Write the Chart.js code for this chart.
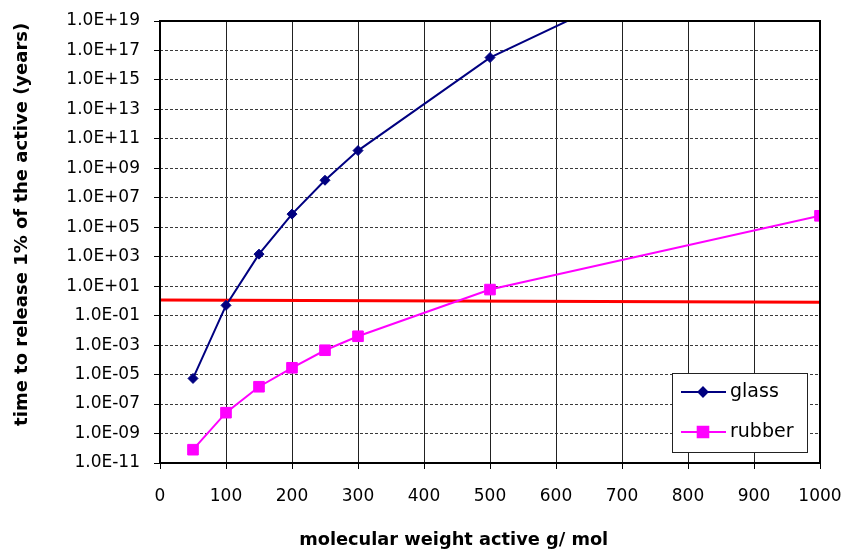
<!DOCTYPE html>
<html>
<head>
<meta charset="utf-8">
<script src="https://cdn.jsdelivr.net/npm/chart.js@4.4.1/dist/chart.umd.min.js"></script>
<style>
html,body{margin:0;padding:0;background:#ffffff;}
#wrap{width:844px;height:550px;position:relative;}
</style>
</head>
<body>
<div id="wrap"><canvas id="c" width="844" height="550"></canvas></div>
<script>
// ---- data ----
const molWeights   = [50, 100, 150, 200, 250, 300, 500, 1000];
const glassYears   = [5.5e-6, 0.5, 1.5e3, 7.8e5, 1.55e8, 1.6e10, 3.3e16, 1.3e27];
const rubberYears  = [8e-11, 2.6e-8, 1.5e-6, 2.9e-5, 4.5e-4, 4e-3, 5.9, 6e5];
const limitWeights = [0, 1000];
const limitYears   = [1.17, 0.81];
const seriesNames  = ['glass', 'rubber'];
const xTickValues  = [0, 100, 200, 300, 400, 500, 600, 700, 800, 900, 1000];
const xTickLabels  = ['0', '100', '200', '300', '400', '500', '600', '700', '800', '900', '1000'];
const yTickExponents = [-11, -9, -7, -5, -3, -1, 1, 3, 5, 7, 9, 11, 13, 15, 17, 19];
const yTickLabels  = ['1.0E-11','1.0E-09','1.0E-07','1.0E-05','1.0E-03','1.0E-01','1.0E+01','1.0E+03',
                      '1.0E+05','1.0E+07','1.0E+09','1.0E+11','1.0E+13','1.0E+15','1.0E+17','1.0E+19'];
const xTitle = 'molecular weight active g/ mol';
const yTitle = 'time to release 1% of the active (years)';

const toPoints = (xs, ys) => xs.map((x, i) => ({x: x, y: ys[i]}));

const edgeAware = (color, n) => (ctx) => (ctx.index === 0 || ctx.index === n - 1) ? 'rgba(0,0,0,0)' : color;

const framePlugin = {
  id: 'frame',
  afterDatasetsDraw(chart) {
    const {ctx, chartArea: a} = chart;
    ctx.save();
    ctx.strokeStyle = '#000';
    ctx.lineWidth = 2;
    ctx.strokeRect(a.left, a.top, a.right - a.left, a.bottom - a.top);
    ctx.restore();
  }
};

const titlesPlugin = {
  id: 'titles',
  afterDraw(chart) {
    const {ctx, chartArea: a} = chart;
    ctx.save();
    ctx.fillStyle = '#000';
    ctx.textAlign = 'center';
    ctx.textBaseline = 'middle';
    ctx.font = 'bold 17.8px "DejaVu Sans"';
    ctx.fillText(xTitle, a.left + (a.right - a.left) * 0.445, chart.height - 10);
    ctx.font = 'bold 18px "DejaVu Sans"';
    ctx.translate(22, a.top + (a.bottom - a.top) * 0.46);
    ctx.rotate(-Math.PI / 2);
    ctx.fillText(yTitle, 0, 0);
    ctx.restore();
  }
};

const legendPlugin = {
  id: 'boxLegend',
  afterDraw(chart) {
    const {ctx, chartArea: a} = chart;
    const w = 135, h = 79;
    const x0 = a.right - 13 - w, y0 = a.bottom - 11 - h;
    ctx.save();
    ctx.fillStyle = '#fff';
    ctx.fillRect(x0, y0, w, h);
    ctx.strokeStyle = '#222';
    ctx.lineWidth = 1;
    ctx.strokeRect(x0 + 0.5, y0 + 0.5, w, h);
    const rows = [y0 + 19, y0 + 59];
    seriesNames.forEach((name, i) => {
      const ds = chart.data.datasets[i];
      const y = rows[i];
      ctx.strokeStyle = ds.borderColor;
      ctx.lineWidth = 2;
      ctx.beginPath();
      ctx.moveTo(x0 + 9, y);
      ctx.lineTo(x0 + 54, y);
      ctx.stroke();
      ctx.fillStyle = ds.backgroundColor;
      ctx.strokeStyle = ds.borderColor;
      Chart.helpers.drawPoint(ctx, {pointStyle: ds.pointStyle, radius: ds.legendRadius, borderWidth: 1, rotation: 0}, x0 + 31, y);
      ctx.fillStyle = '#000';
      ctx.font = '19px "DejaVu Sans"';
      ctx.textAlign = 'left';
      ctx.textBaseline = 'middle';
      ctx.fillText(name, x0 + 58, y);
    });
    ctx.restore();
  }
};

new Chart(document.getElementById('c'), {
  type: 'line',
  data: {
    datasets: [
      {
        label: seriesNames[0],
        data: toPoints(molWeights, glassYears),
        borderColor: '#000080', backgroundColor: '#000080',
        borderWidth: 2, pointStyle: 'rectRot', pointRadius: 5, pointBorderWidth: 1,
        legendRadius: 4.5, tension: 0
      },
      {
        label: seriesNames[1],
        data: toPoints(molWeights, rubberYears),
        borderColor: '#FF00FF', backgroundColor: '#FF00FF',
        borderWidth: 2, pointStyle: 'rect', pointRadius: 7.5, pointBorderWidth: 1,
        legendRadius: 7.5, tension: 0
      },
      {
        label: 'limit',
        data: toPoints(limitWeights, limitYears),
        borderColor: '#FF0000', backgroundColor: '#FF0000',
        borderWidth: 3, pointRadius: 0, tension: 0
      }
    ]
  },
  options: {
    responsive: false,
    animation: false,
    layout: {padding: {top: 21, right: 24, left: 0, bottom: 0}},
    plugins: {legend: {display: false}, tooltip: {enabled: false}},
    scales: {
      x: {
        type: 'linear', min: 0, max: 1000,
        afterBuildTicks: s => { s.ticks = xTickValues.map(v => ({value: v})); },
        afterFit: s => { s.height = 87; s.paddingLeft = 0; s.paddingRight = 0; },
        ticks: {callback: (v, i) => xTickLabels[i], font: {family: 'DejaVu Sans', size: 17}, color: '#000', padding: 17, maxRotation: 0, autoSkip: false},
        grid: {color: edgeAware('#222222', xTickValues.length), lineWidth: 1, tickColor: '#000', tickLength: 6, tickWidth: 1},
        border: {display: false}
      },
      y: {
        type: 'logarithmic', min: 1e-11, max: 1e19,
        afterBuildTicks: s => { s.ticks = yTickExponents.map(e => ({value: Math.pow(10, e)})); },
        afterFit: s => { s.width = 160; s.paddingTop = 0; s.paddingBottom = 0; },
        ticks: {callback: (v, i) => yTickLabels[i], font: {family: 'DejaVu Sans', size: 17}, color: '#000', padding: 14, autoSkip: false},
        grid: {color: edgeAware('#3a3a3a', yTickExponents.length), lineWidth: 1, tickColor: '#000', tickLength: 6, tickWidth: 1},
        border: {display: false, dash: [3, 2]}
      }
    }
  },
  plugins: [framePlugin, legendPlugin, titlesPlugin]
});
</script>
</body>
</html>
